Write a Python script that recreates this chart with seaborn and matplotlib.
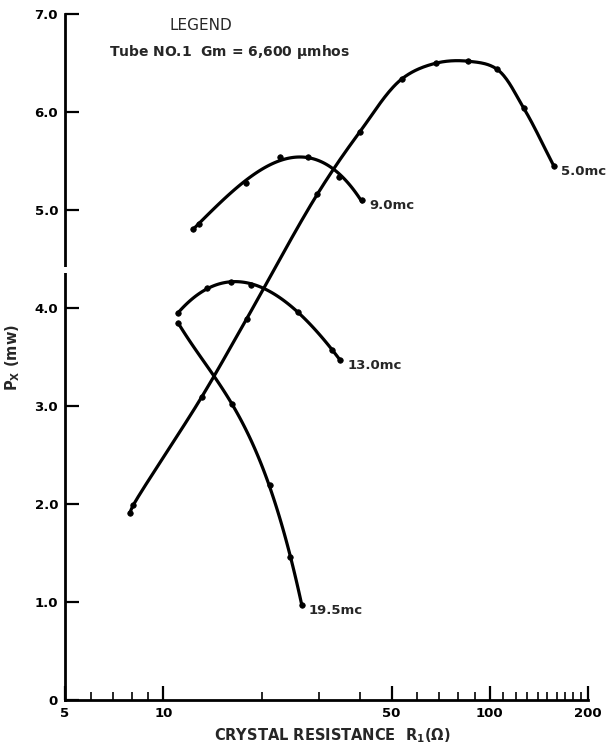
import numpy as np
import pandas as pd
import matplotlib
matplotlib.use("Agg")
import matplotlib.pyplot as plt
import seaborn as sns

# Crystal power P_x (mW) against crystal resistance R1 (ohms), one series per frequency
r_5mc = [7.9, 8.1, 13.1, 18.0, 29.6, 40.0, 53.8, 68.4, 85.7, 105.0, 127.0, 157.0]
p_5mc = [1.91, 1.99, 3.09, 3.89, 5.16, 5.80, 6.34, 6.50, 6.52, 6.44, 6.04, 5.45]

r_9mc = [12.3, 12.9, 17.9, 22.8, 27.7, 34.5, 40.6]
p_9mc = [4.81, 4.86, 5.28, 5.54, 5.54, 5.34, 5.10]

r_13mc = [11.1, 13.6, 16.1, 18.6, 25.9, 32.9, 34.8]
p_13mc = [3.95, 4.20, 4.27, 4.24, 3.96, 3.57, 3.47]

r_19mc = [11.1, 16.2, 21.2, 24.4, 26.6]
p_19mc = [3.85, 3.02, 2.19, 1.46, 0.97]

curve_labels = ["5.0mc", "9.0mc", "13.0mc", "19.5mc"]

y_ticks = [0, 1, 2, 3, 4, 5, 6, 7]
y_tick_labels = ["0", "1.0", "2.0", "3.0", "4.0", "5.0", "6.0", "7.0"]
x_major = [5, 10, 50, 100, 200]
x_major_labels = ["5", "10", "50", "100", "200"]
x_minor = [6, 7, 8, 9, 20, 30, 40, 60, 70, 80, 90,
           110, 120, 130, 140, 150, 160, 170, 180, 190]


def spline_curve(r, p, n=30):
    """Centripetal Catmull-Rom curve through the points (log10 R space)."""
    # scale so a decade and one mW have comparable lengths
    pts = np.column_stack([np.log10(r) * 3.3, p])
    ext = np.vstack([2 * pts[0] - pts[1], pts, 2 * pts[-1] - pts[-2]])
    out = []
    for i in range(1, len(ext) - 2):
        p0, p1, p2, p3 = ext[i - 1], ext[i], ext[i + 1], ext[i + 2]
        t0 = 0.0
        t1 = t0 + np.linalg.norm(p1 - p0) ** 0.5
        t2 = t1 + np.linalg.norm(p2 - p1) ** 0.5
        t3 = t2 + np.linalg.norm(p3 - p2) ** 0.5
        t = np.linspace(t1, t2, n, endpoint=False)[:, None]
        a1 = (t1 - t) / (t1 - t0) * p0 + (t - t0) / (t1 - t0) * p1
        a2 = (t2 - t) / (t2 - t1) * p1 + (t - t1) / (t2 - t1) * p2
        a3 = (t3 - t) / (t3 - t2) * p2 + (t - t2) / (t3 - t2) * p3
        b1 = (t2 - t) / (t2 - t0) * a1 + (t - t0) / (t2 - t0) * a2
        b2 = (t3 - t) / (t3 - t1) * a2 + (t - t1) / (t3 - t1) * a3
        out.append((t2 - t) / (t2 - t1) * b1 + (t - t1) / (t2 - t1) * b2)
    out.append(pts[-1:])
    c = np.vstack(out)
    return 10 ** (c[:, 0] / 3.3), c[:, 1]


def fitted_curve(r, p, deg, n=120):
    """Least-squares polynomial in log10 R, drawn over the measured span."""
    u = np.log10(r)
    coef = np.polyfit(u, p, deg)
    uu = np.linspace(u[0], u[-1], n)
    return 10 ** uu, np.polyval(coef, uu)


sns.set_theme(style="ticks")
plt.rcParams["font.family"] = ["DejaVu Sans"]

fig = plt.figure(figsize=(6.07, 7.47), dpi=100)
ax = fig.add_axes([0.107, 0.063, 0.862, 0.918])

series = [(r_5mc, p_5mc, None), (r_9mc, p_9mc, 3),
          (r_13mc, p_13mc, 3), (r_19mc, p_19mc, 3)]
for (r, p, deg), lab in zip(series, curve_labels):
    if deg is None:
        cx, cy = spline_curve(r, p)
    else:
        cx, cy = fitted_curve(r, p, deg)
    sns.lineplot(x=cx, y=cy, sort=False, estimator=None, color="black",
                 linewidth=2.3, ax=ax)
    sns.scatterplot(x=r, y=p, color="black", s=16, edgecolor="black",
                    linewidth=0.5, ax=ax, zorder=3)
    ax.annotate(lab, xy=(r[-1], p[-1]), xytext=(5, -4),
                textcoords="offset points", fontsize=9.5, fontweight="bold",
                ha="left", va="center")

ax.set_xscale("log")
ax.set_xlim(5, 200)
ax.set_ylim(0, 7)

ax.set_xticks(x_major)
ax.set_xticklabels(x_major_labels)
ax.set_xticks(x_minor, minor=True)
ax.xaxis.set_minor_formatter(matplotlib.ticker.NullFormatter())
ax.set_yticks(y_ticks)
ax.set_yticklabels(y_tick_labels)

ax.tick_params(axis="both", which="major", direction="in", length=10,
               width=1.6, labelsize=9.5, pad=5, colors="black")
ax.tick_params(axis="x", which="minor", direction="in", length=6, width=1.4)
for t in ax.get_xticklabels() + ax.get_yticklabels():
    t.set_fontweight("bold")

sns.despine(ax=ax)
for s in ("left", "bottom"):
    ax.spines[s].set_linewidth(2.0)
    ax.spines[s].set_color("black")

# short break in the vertical axis between 4.0 and 5.0
ax.plot([0, 0], [4.36, 4.42], transform=ax.get_yaxis_transform(),
        color="white", linewidth=4, clip_on=False, zorder=5,
        solid_capstyle="butt")

ax.set_xlabel(r"CRYSTAL RESISTANCE  $\mathregular{R_1(\Omega)}$", fontsize=10.5,
              fontweight="bold")
ax.xaxis.set_label_coords(0.51, -0.038)
ax.set_ylabel(r"$\mathregular{P_X}$ (mw)", fontsize=10.5, fontweight="bold")
ax.yaxis.set_label_coords(-0.082, 0.5)

fig.text(0.28, 0.966, "LEGEND", fontsize=11, ha="left", va="center")
fig.text(0.18, 0.930, r"Tube NO.1  Gm = 6,600 $\mathregular{\mu}$mhos",
         fontsize=10, fontweight="bold", ha="left", va="center")

fig.savefig("out.png", dpi=100)
